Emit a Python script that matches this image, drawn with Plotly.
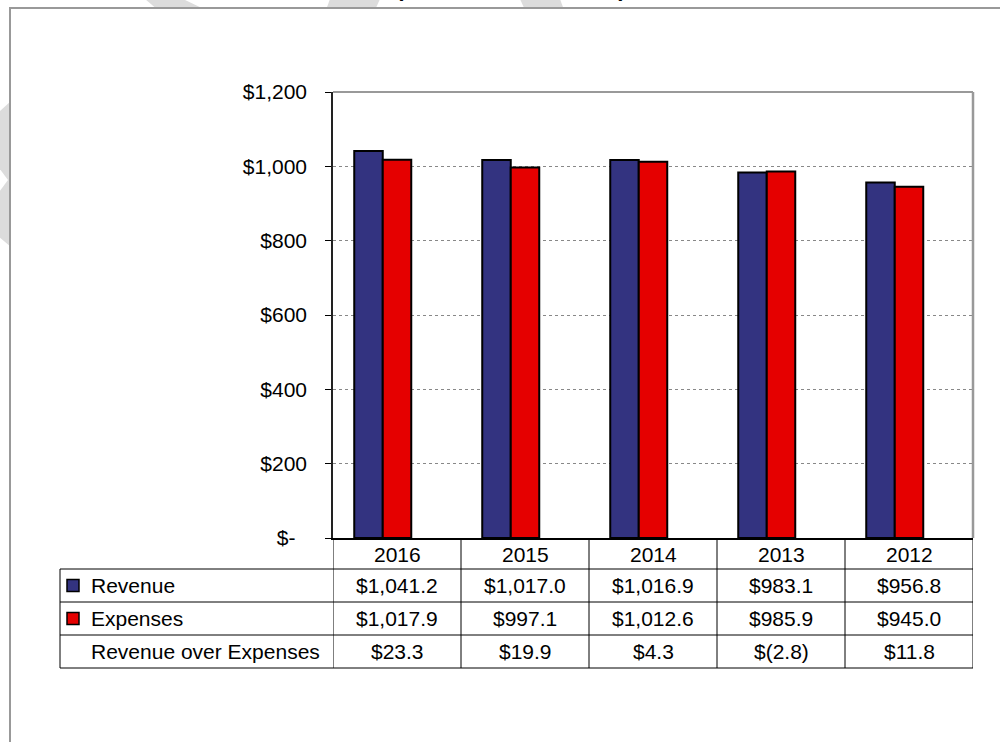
import plotly.graph_objects as go

# ---- data -------------------------------------------------------------
years = ["2016", "2015", "2014", "2013", "2012"]
revenue = [1041.2, 1017.0, 1016.9, 983.1, 956.8]
expenses = [1017.9, 997.1, 1012.6, 985.9, 945.0]
net = [23.3, 19.9, 4.3, -2.8, 11.8]
row_labels = ["Revenue", "Expenses", "Revenue over Expenses"]
tick_vals = [0, 200, 400, 600, 800, 1000, 1200]
tick_text = ["$-\u00a0\u00a0", "$200", "$400", "$600", "$800", "$1,000", "$1,200"]
title_text = "(In Millions of Dollars)"

# ---- style ------------------------------------------------------------
BLUE = "#333380"
RED = "#E50000"
FONT = "Arial, 'Liberation Sans', sans-serif"
FS = 21

W, H = 1000, 742
PL, PR, PT, PB = 333, 973, 92, 538   # plot area in pixels


def px(x):
    return (x - PL) / (PR - PL)


def py(y):
    return (PB - y) / (PB - PT)


def money(v):
    s = f"{abs(v):,.1f}"
    return f"$({s})" if v < 0 else f"${s}"


idx = list(range(len(years)))
bw = 0.2227

fig = go.Figure()
fig.add_bar(x=idx, y=revenue, name="Revenue", width=bw, offset=-1.5 * bw,
            marker=dict(color=BLUE, line=dict(color="black", width=2)))
fig.add_bar(x=idx, y=expenses, name="Expenses", width=bw, offset=-0.5 * bw,
            marker=dict(color=RED, line=dict(color="black", width=2)))

shapes = []
ann = []

# light watermark bands around the chart frame
WM = "#DCDCDC"


def poly(pts):
    return "M " + " L ".join(f"{px(a)},{py(b)}" for a, b in pts) + " Z"


for pts in [
    [(145, -1), (183, -1), (206, 10), (158, 10)],
    [(330, -1), (380, -1), (375, 10), (326, 10)],
    [(520, -1), (560, -1), (564, 10), (525, 10)],
    [(-1, 112), (11, 101), (11, 247), (-1, 237)],
]:
    shapes.append(dict(type="path", xref="paper", yref="paper", path=poly(pts),
                       fillcolor=WM, line=dict(width=0), layer="below"))
shapes.append(dict(type="path", xref="paper", yref="paper",
                   path=poly([(-1, 168), (8, 180), (-1, 192)]),
                   fillcolor="white", line=dict(width=0), layer="below"))

# chart frame
shapes.append(dict(type="rect", xref="paper", yref="paper",
                   x0=px(10), y0=py(8), x1=px(1012), y1=py(756),
                   fillcolor="white", line=dict(color="#999999", width=2),
                   layer="below"))

# plot-area border: top and right
shapes.append(dict(type="line", xref="paper", yref="paper", x0=0, x1=1, y0=1, y1=1,
                   line=dict(color="#999999", width=2)))
shapes.append(dict(type="line", xref="paper", yref="paper", x0=1, x1=1, y0=0, y1=1,
                   line=dict(color="#999999", width=2.5)))

# data table grid
row_y = [569, 602, 635, 668]
for i, yy in enumerate(row_y):
    shapes.append(dict(type="line", xref="paper", yref="paper",
                       x0=px(60), x1=1, y0=py(yy), y1=py(yy),
                       line=dict(color="black", width=1)))
for k in range(len(years) + 1):
    shapes.append(dict(type="line", xref="x", yref="paper",
                       x0=k - 0.5, x1=k - 0.5, y0=py(PB), y1=py(668),
                       line=dict(color="black", width=1)))
shapes.append(dict(type="line", xref="paper", yref="paper",
                   x0=px(60), x1=px(60), y0=py(569), y1=py(668),
                   line=dict(color="black", width=1)))

# legend keys in the table
for yy, col in [(585.5, BLUE), (618.5, RED)]:
    shapes.append(dict(type="rect", xref="paper", yref="paper",
                       x0=px(67), x1=px(79), y0=py(yy - 6), y1=py(yy + 6),
                       fillcolor=col, line=dict(color="black", width=1.5)))

font = dict(family=FONT, size=FS, color="black")

for i, yr in enumerate(years):
    ann.append(dict(x=i, y=py(554), xref="x", yref="paper", text=yr,
                    showarrow=False, font=font, xanchor="center", yanchor="middle"))

for r, (vals, yc) in enumerate(zip([revenue, expenses, net], [585.5, 618.5, 651.5])):
    ann.append(dict(x=px(89), y=py(yc), xref="paper", yref="paper", text=row_labels[r],
                    showarrow=False, font=font, xanchor="left", yanchor="middle"))
    for i, v in enumerate(vals):
        ann.append(dict(x=i, y=py(yc), xref="x", yref="paper", text=money(v),
                        showarrow=False, font=font, xanchor="center", yanchor="middle"))

# chart title (sits above the visible area)
ann.append(dict(x=px(511), y=py(-11.5), xref="paper", yref="paper", text=f"<b>{title_text}</b>",
                showarrow=False, font=dict(family=FONT, size=22, color="black"),
                xanchor="center", yanchor="middle"))

fig.update_layout(
    width=W, height=H,
    margin=dict(l=PL, r=W - PR, t=PT, b=H - PB, pad=0),
    paper_bgcolor="white", plot_bgcolor="white",
    showlegend=False,
    barmode="overlay",
    shapes=shapes, annotations=ann,
    xaxis=dict(range=[-0.5, len(years) - 0.5], showticklabels=False, ticks="",
               showgrid=False, zeroline=False, showline=True,
               linecolor="black", linewidth=2),
    yaxis=dict(range=[0, 1200], tickvals=tick_vals, ticktext=tick_text,
               ticks="outside", ticklen=6, tickcolor="black", tickwidth=1,
               ticklabelstandoff=14,
               tickfont=font, showline=True, linecolor="#222222", linewidth=1.5,
               showgrid=True, gridcolor="#888888", gridwidth=1, griddash="dot",
               zeroline=False),
)

fig.write_html("out.html")
